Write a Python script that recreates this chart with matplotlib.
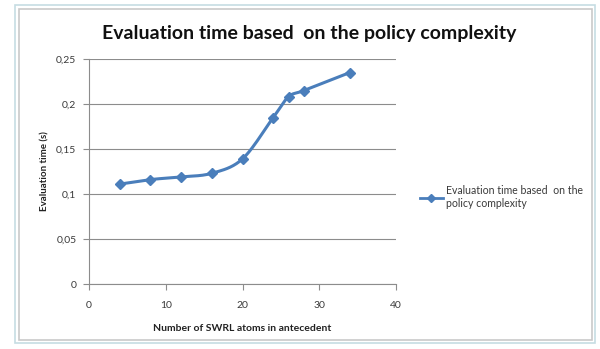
import numpy as np
import matplotlib
matplotlib.use("Agg")
import matplotlib.pyplot as plt
from matplotlib.patches import Rectangle
from matplotlib.lines import Line2D

atoms = [4, 8, 12, 16, 20, 24, 26, 28, 34]
eval_time = [0.111, 0.116, 0.119, 0.123, 0.139, 0.185, 0.208, 0.215, 0.235]
y_ticks = [0, 0.05, 0.1, 0.15, 0.2, 0.25]
y_tick_labels = ["0", "0,05", "0,1", "0,15", "0,2", "0,25"]
x_ticks = [0, 10, 20, 30, 40]

LINE = "#4a7ebb"
FONT = ["Lato", "DejaVu Sans"]


def smooth(xs, ys, n=20):
    # Catmull-Rom curve through the points, like a spreadsheet "smoothed line"
    px = np.array(xs, float)
    py = np.array(ys, float)
    px = np.concatenate([[2 * px[0] - px[1]], px, [2 * px[-1] - px[-2]]])
    py = np.concatenate([[2 * py[0] - py[1]], py, [2 * py[-1] - py[-2]]])
    ox, oy = [], []
    t = np.linspace(0, 1, n, endpoint=False)
    for i in range(1, len(px) - 2):
        for arr, out in ((px, ox), (py, oy)):
            p0, p1, p2, p3 = arr[i - 1:i + 3]
            out.extend(0.5 * ((2 * p1) + (-p0 + p2) * t
                              + (2 * p0 - 5 * p1 + 4 * p2 - p3) * t ** 2
                              + (-p0 + 3 * p1 - 3 * p2 + p3) * t ** 3))
    ox.append(xs[-1])
    oy.append(ys[-1])
    return ox, oy


fig = plt.figure(figsize=(6.0, 3.49), dpi=100)
fig.patch.set_facecolor("white")

# chart frame: light blue outer edge with a grey inner line
W, H = 600, 349
for (x0, y0, x1, y1), col in (((15, 5, 595, 343), "#c6dde3"),
                              ((19, 9, 592, 340), "#c9c9c9")):
    fig.patches.append(Rectangle((x0 / W, 1 - y1 / H), (x1 - x0) / W, (y1 - y0) / H,
                                 transform=fig.transFigure, facecolor="none",
                                 edgecolor=col, lw=1.2, zorder=-1))

ax = fig.add_axes([89 / W, 65 / H, 307 / W, 225 / H])
ax.patch.set_alpha(0)
sx, sy = smooth(atoms, eval_time)
ax.plot(sx, sy, color=LINE, lw=2.2, zorder=3)
ax.plot(atoms, eval_time, ls="none", marker="D", ms=5, color=LINE, zorder=4)

ax.set_xlim(0, 40)
ax.set_ylim(0, 0.25)
ax.set_xticks(x_ticks)
ax.set_yticks(y_ticks)
ax.set_yticklabels(y_tick_labels)
ax.grid(axis="y", color="#8c8c8c", lw=0.8)
ax.set_axisbelow(True)
for s in ("top", "right"):
    ax.spines[s].set_visible(False)
for s in ("left", "bottom"):
    ax.spines[s].set_color("#8c8c8c")
ax.tick_params(colors="#8c8c8c", labelcolor="#3a3a3a", labelsize=7.5,
               length=4, direction="out")
ax.tick_params(axis="x", pad=8)
ax.tick_params(axis="y", pad=5)
for lab in ax.get_xticklabels() + ax.get_yticklabels():
    lab.set_family(FONT)

ax.set_xlabel("Number of SWRL atoms in antecedent", fontsize=7.5,
              fontweight="bold", family=FONT, color="#222222", labelpad=10)
ax.set_ylabel("Evaluation time (s)", fontsize=7, fontweight="bold",
              family=FONT, color="#222222", labelpad=5)

fig.text(309 / W, 1 - 33 / H, "Evaluation time based  on the policy complexity",
         ha="center", va="center", fontsize=14, fontweight="bold",
         family=FONT, color="#111111")

handle = Line2D([], [], color=LINE, lw=2, marker="D", ms=4)
fig.legend([handle], ["Evaluation time based  on the\npolicy complexity"],
           loc="center left", bbox_to_anchor=(410 / W, 1 - 197 / H),
           frameon=False, handlelength=2.2, handletextpad=0.3,
           prop={"family": FONT, "size": 7.6}, labelcolor="#3a3a3a")

fig.savefig("out.png", dpi=100)
